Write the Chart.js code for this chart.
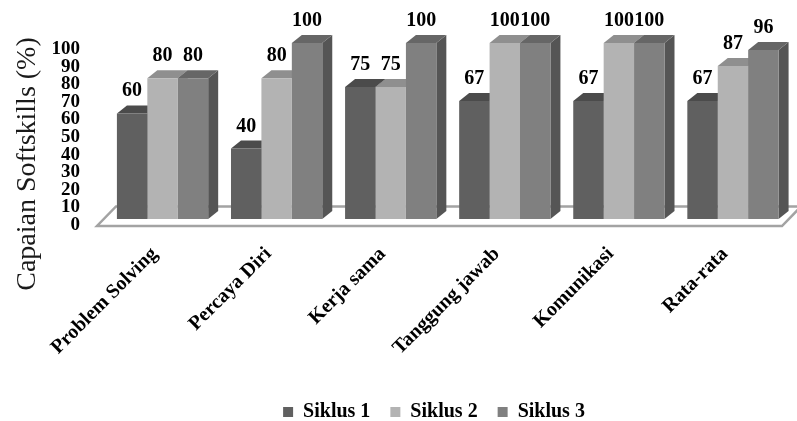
<!DOCTYPE html>
<html>
<head>
<meta charset="utf-8">
<script src="https://cdn.jsdelivr.net/npm/chart.js@4.4.1/dist/chart.umd.min.js"></script>
<style>
  html, body { margin: 0; padding: 0; background: #fff; }
  #wrap { width: 797px; height: 421px; }
</style>
</head>
<body>
<div id="wrap"><canvas id="chart" width="797" height="421"></canvas></div>
<script>
// Data
const categories = ['Problem Solving', 'Percaya Diri', 'Kerja sama', 'Tanggung jawab', 'Komunikasi', 'Rata-rata'];
const seriesNames = ['Siklus 1', 'Siklus 2', 'Siklus 3'];
const siklus1 = [60, 40, 75, 67, 67, 67];
const siklus2 = [80, 80, 75, 100, 100, 87];
const siklus3 = [80, 100, 100, 100, 100, 96];
const yTickValues = [0, 10, 20, 30, 40, 50, 60, 70, 80, 90, 100];
const yTitle = 'Capaian Softskills (%)';

// Face shading for the extruded bars
const frontColors = ['#606060', '#b3b3b3', '#808080'];
const topColors = ['#4b4b4b', '#8f8f8f', '#666666'];
const sideColors = ['#4f4f4f', '#999999', '#555555'];
const DEPTH_X = 10, DEPTH_Y = -8;

const serif = '"Liberation Serif", "Times New Roman", serif';

// Draws floor, bar side/top faces, value labels and the rotated axis title
const bar3d = {
  id: 'bar3d',
  afterLayout(chart) {
    // legend is centred under the floor rather than the whole canvas
    if (chart.legend) chart.legend.left = 78;
  },
  beforeDatasetsDraw(chart) {
    const { ctx, chartArea, scales } = chart;
    const base = scales.y.getPixelForValue(0);
    ctx.save();
    // floor slab
    const fl = chartArea.left - 8.5, fr = chartArea.right - 8;
    const fy = base + 7, by = base - 12.5, bdx = 19;
    ctx.beginPath();
    ctx.moveTo(fl, fy);
    ctx.lineTo(fr, fy);
    ctx.lineTo(fr + bdx, by);
    ctx.lineTo(fl + bdx, by);
    ctx.closePath();
    ctx.fillStyle = '#ffffff';
    ctx.fill();
    ctx.strokeStyle = '#a3a3a3';
    ctx.lineWidth = 2.5;
    ctx.stroke();

    const metas = chart.data.datasets.map((d, i) => chart.getDatasetMeta(i));
    for (let j = 0; j < categories.length; j++) {
      metas.forEach((meta, i) => {
        const el = meta.data[j];
        const w = el.width;
        const l = el.x - w / 2, r = el.x + w / 2, t = el.y, b = el.base;
        ctx.fillStyle = sideColors[i];
        ctx.beginPath();
        ctx.moveTo(r, t);
        ctx.lineTo(r + DEPTH_X, t + DEPTH_Y);
        ctx.lineTo(r + DEPTH_X, b + DEPTH_Y);
        ctx.lineTo(r, b);
        ctx.closePath();
        ctx.fill();
        ctx.fillStyle = topColors[i];
        ctx.beginPath();
        ctx.moveTo(l, t);
        ctx.lineTo(l + DEPTH_X, t + DEPTH_Y);
        ctx.lineTo(r + DEPTH_X, t + DEPTH_Y);
        ctx.lineTo(r, t);
        ctx.closePath();
        ctx.fill();
      });
    }
    ctx.restore();
  },
  afterDatasetsDraw(chart) {
    const { ctx } = chart;
    ctx.save();
    ctx.font = 'bold 20px ' + serif;
    ctx.fillStyle = '#000';
    ctx.textAlign = 'center';
    ctx.textBaseline = 'alphabetic';
    chart.data.datasets.forEach((ds, i) => {
      chart.getDatasetMeta(i).data.forEach((el, j) => {
        ctx.fillText(String(ds.data[j]), el.x, el.y - 17);
      });
    });
    ctx.restore();
  },
  afterDraw(chart) {
    const { ctx } = chart;
    ctx.save();
    ctx.translate(35, 164);
    ctx.rotate(-Math.PI / 2);
    ctx.font = '28px ' + serif;
    ctx.fillStyle = '#1a1a1a';
    ctx.textAlign = 'center';
    ctx.textBaseline = 'alphabetic';
    ctx.fillText(yTitle, 0, 0);
    ctx.restore();
  }
};

const seriesData = [siklus1, siklus2, siklus3];

new Chart(document.getElementById('chart'), {
  type: 'bar',
  data: {
    labels: categories,
    datasets: seriesNames.map((name, i) => ({
      label: name,
      data: seriesData[i],
      backgroundColor: frontColors[i],
      borderWidth: 0,
      barPercentage: 1,
      categoryPercentage: 0.8
    }))
  },
  options: {
    responsive: false,
    animation: false,
    layout: { padding: { left: 0, right: 7, top: 43, bottom: -11 } },
    plugins: {
      legend: {
        position: 'bottom',
        labels: {
          boxWidth: 10,
          boxHeight: 10,
          padding: 20,
          color: '#000',
          font: { family: serif, size: 20, weight: 'bold' }
        }
      },
      tooltip: { enabled: false }
    },
    scales: {
      x: {
        grid: { display: false, drawTicks: false, tickLength: 0 },
        border: { display: false },
        ticks: {
          autoSkip: false,
          minRotation: 45,
          maxRotation: 45,
          padding: 23.5,
          labelOffset: -8,
          color: '#000',
          font: { family: serif, size: 20, weight: 'bold' }
        },
        afterFit(s) { s.height = 163; s.paddingLeft = 0; s.paddingRight = 0; }
      },
      y: {
        min: 0,
        max: 100,
        grid: { display: false, drawTicks: false, tickLength: 0 },
        border: { display: false },
        afterBuildTicks(s) { s.ticks = yTickValues.map(v => ({ value: v })); },
        ticks: {
          autoSkip: false,
          padding: 25.5,
          labelOffset: 6,
          color: '#000',
          font: { family: serif, size: 19, weight: 'bold' }
        },
        afterFit(s) { s.width = 105.5; s.paddingTop = 0; s.paddingBottom = 0; }
      }
    }
  },
  plugins: [bar3d]
});
</script>
</body>
</html>
